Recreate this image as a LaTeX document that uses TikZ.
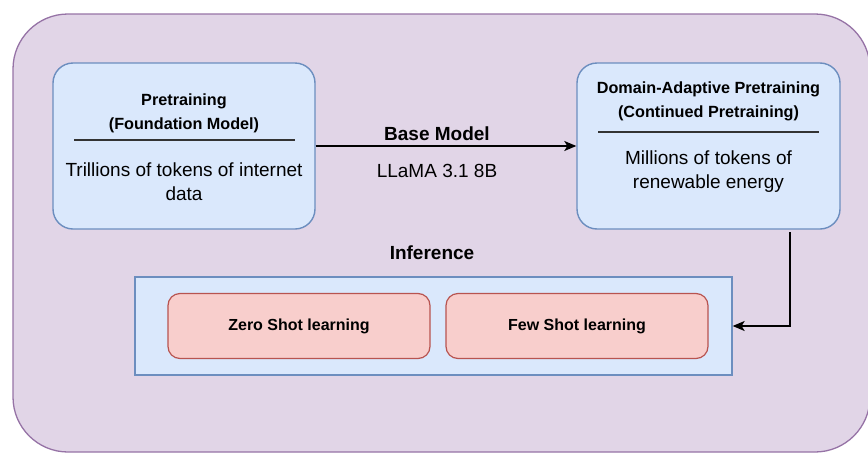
\documentclass[tikz,border=0pt]{standalone}
\usepackage{fontspec}
\setmainfont{Liberation Sans}
\usetikzlibrary{arrows.meta}
\definecolor{outerfill}{HTML}{E1D5E7}
\definecolor{outerdraw}{HTML}{9673A6}
\definecolor{bluefill}{HTML}{DAE8FC}
\definecolor{bluedraw}{HTML}{6C8EBF}
\definecolor{pinkfill}{HTML}{F8CECC}
\definecolor{pinkdraw}{HTML}{B85450}
\definecolor{sepline}{HTML}{333333}
\tikzset{
  stagebox/.style={draw=bluedraw, fill=bluefill, line width=1.4pt, rounded corners=20pt, inner sep=0pt},
  learnbox/.style={draw=pinkdraw, fill=pinkfill, line width=1.2pt, rounded corners=12pt, inner sep=0pt,
     minimum width=262pt, minimum height=65pt, font=\bfseries\fontsize{16}{19}\selectfont},
  titletext/.style={anchor=base, align=center, font=\bfseries\fontsize{16.2}{23.5}\selectfont, inner sep=0pt},
  bodytext/.style={anchor=base, align=center, font=\fontsize{19}{24}\selectfont, inner sep=0pt},
  labeltext/.style={anchor=base, inner sep=0pt, font=\fontsize{19}{23}\selectfont},
  sepstyle/.style={draw=sepline, line width=1.3pt},
  flow/.style={draw=black, line width=1.4pt, -{Stealth[length=12pt,width=10pt,inset=3pt]}}
}
\begin{document}
\begin{tikzpicture}[x=1pt,y=-1pt]
\useasboundingbox (0,0) rectangle (868,453);
% outer container
\draw[draw=outerdraw, fill=outerfill, line width=1.3pt, rounded corners=55pt] (13,14) rectangle (870,452);

% stage boxes
\node[stagebox, minimum width=262pt, minimum height=166pt] (pre) at (184,146) {};
\node[stagebox, minimum width=263pt, minimum height=166pt] (dapt) at (708.5,146) {};

% texts of the pretraining box (anchored at the baseline of the last line)
\node[titletext] (pretitle) at (184,129) {Pretraining\\(Foundation Model)};
\draw[sepstyle] (74,140) -- (295,140);
\node[bodytext] (prebody) at (184,200) {Trillions of tokens of internet\\data};

% texts of the DAPT box
\node[titletext] (dapttitle) at (708.5,117) {Domain-Adaptive Pretraining\\(Continued Pretraining)};
\draw[sepstyle] (598,132) -- (819,132);
\node[bodytext] (daptbody) at (708.5,188) {Millions of tokens of\\renewable energy};

% base model arrow
\draw[flow] (pre.east) -- (dapt.west);
\node[labeltext, font=\bfseries\fontsize{19}{23}\selectfont] (basemodel) at (437,140) {Base Model};
\node[labeltext] (llama) at (437,177) {LLaMA 3.1 8B};

% inference
\node[labeltext, font=\bfseries\fontsize{19}{23}\selectfont] (inflabel) at (432,259) {Inference};
\node[draw=bluedraw, fill=bluefill, line width=1.3pt, minimum width=597pt, minimum height=98pt, inner sep=0pt] (inf) at (433.5,326) {};
\node[learnbox] (zero) at (299,326) {Zero Shot learning};
\node[learnbox] (few) at (577,326) {Few Shot learning};

% feedback arrow
\coordinate (exitpt) at (790,232);
\draw[flow] (exitpt) |- (inf.east);
\end{tikzpicture}
\end{document}
